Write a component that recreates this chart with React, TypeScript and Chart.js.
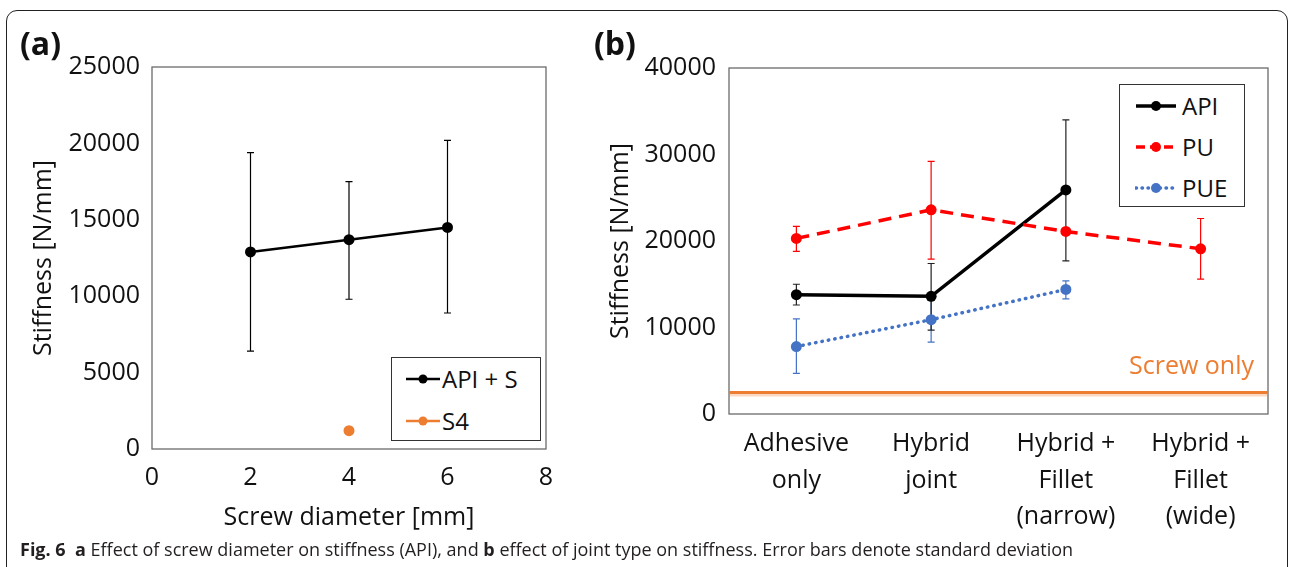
import React, { useEffect, useRef } from "react";
import { Chart, registerables } from "chart.js";
Chart.register(...registerables);

// ---------- data: panel (a) ----------
const screwDiameters = [2, 4, 6];
const apiSValues = [12900, 13700, 14500];
const apiSUpper = [19400, 17500, 20200];
const apiSLower = [6400, 9800, 8900];
const s4Diameters = [4];
const s4Values = [1200];
const leftXTicks = { min: 0, max: 8, step: 2 };
const leftYTicks = { min: 0, max: 25000, step: 5000 };

// ---------- data: panel (b) ----------
const jointTypes = [
  ["Adhesive", "only"],
  ["Hybrid", "joint"],
  ["Hybrid +", "Fillet", "(narrow)"],
  ["Hybrid +", "Fillet", "(wide)"],
];
const apiValues = [13800, 13600, 25900, null];
const apiUpper = [15000, 17400, 34000, null];
const apiLower = [12600, 9700, 17700, null];
const puValues = [20300, 23600, 21100, 19100];
const puUpper = [21700, 29200, null, 22600];
const puLower = [18800, 17900, null, 15600];
const pueValues = [7800, 10900, 14400, null];
const pueUpper = [11000, 13500, 15400, null];
const pueLower = [4700, 8300, 13300, null];
const screwOnlyValue = 2500;
const rightYTicks = { min: 0, max: 40000, step: 10000 };

const FONT = "'Open Sans', 'DejaVu Sans', sans-serif";
const ORANGE = "#ED7D31";
const RED = "#FF0000";
const BLUE = "#4472C4";
const BLACK = "#000000";
const TICK_SIZE = 25;

const plainNumber = (v: any) => String(v);

const frameAndErrorPlugin = {
  id: "frameAndErrors",
  beforeDatasetsDraw(chart: any) {
    const ctx = chart.ctx;
    const a = chart.chartArea;
    ctx.save();
    ctx.strokeStyle = "#6b6b6b";
    ctx.lineWidth = 1.3;
    ctx.strokeRect(a.left, a.top, a.right - a.left, a.bottom - a.top);
    ctx.restore();

    const ys = chart.scales.y;
    chart.data.datasets.forEach((ds: any, di: number) => {
      if (!ds.errUpper) return;
      const meta = chart.getDatasetMeta(di);
      meta.data.forEach((pt: any, i: number) => {
        const u = ds.errUpper[i];
        const l = ds.errLower[i];
        if (u == null || l == null || !isFinite(pt.x)) return;
        const yU = ys.getPixelForValue(u);
        const yL = ys.getPixelForValue(l);
        const cap = 3.5;
        ctx.save();
        ctx.strokeStyle = ds.errColor;
        ctx.lineWidth = 1.2;
        ctx.beginPath();
        ctx.moveTo(pt.x, yU);
        ctx.lineTo(pt.x, yL);
        ctx.moveTo(pt.x - cap, yU);
        ctx.lineTo(pt.x + cap, yU);
        ctx.moveTo(pt.x - cap, yL);
        ctx.lineTo(pt.x + cap, yL);
        ctx.stroke();
        ctx.restore();
      });
    });
  },
};

const screwOnlyPlugin = {
  id: "screwOnly",
  beforeDatasetsDraw(chart: any) {
    const opts = chart.options.plugins.screwOnly;
    if (!opts || opts.value == null) return;
    const ctx = chart.ctx;
    const a = chart.chartArea;
    const y = chart.scales.y.getPixelForValue(opts.value);
    ctx.save();
    ctx.strokeStyle = "rgba(237,125,49,0.3)";
    ctx.lineWidth = 3;
    ctx.beginPath();
    ctx.moveTo(a.left, y + 2.5);
    ctx.lineTo(a.right, y + 2.5);
    ctx.stroke();
    ctx.strokeStyle = ORANGE;
    ctx.lineWidth = 3;
    ctx.beginPath();
    ctx.moveTo(a.left, y);
    ctx.lineTo(a.right, y);
    ctx.stroke();
    ctx.fillStyle = ORANGE;
    ctx.font = `25px ${FONT}`;
    ctx.textAlign = "right";
    ctx.textBaseline = "middle";
    ctx.fillText(opts.label, a.right - 14, y - 26);
    ctx.restore();
  },
};

function LeftChart() {
  const ref = useRef<HTMLCanvasElement>(null);
  useEffect(() => {
    const chart = new Chart(ref.current as HTMLCanvasElement, {
      type: "line",
      data: {
        datasets: [
          {
            label: "API + S",
            data: screwDiameters.map((x, i) => ({ x, y: apiSValues[i] })),
            borderColor: BLACK,
            backgroundColor: BLACK,
            borderWidth: 2.5,
            pointRadius: 5.5,
            pointBorderWidth: 0,
            pointBackgroundColor: BLACK,
            errUpper: apiSUpper,
            errLower: apiSLower,
            errColor: BLACK,
          } as any,
          {
            label: "S4",
            data: s4Diameters.map((x, i) => ({ x, y: s4Values[i] })),
            borderColor: ORANGE,
            backgroundColor: ORANGE,
            showLine: false,
            pointRadius: 5.5,
            pointBorderWidth: 0,
            pointBackgroundColor: ORANGE,
          },
        ],
      },
      options: {
        animation: false,
        responsive: false,
        maintainAspectRatio: false,
        layout: { padding: { left: 24, right: 34, top: 67, bottom: 0 } },
        plugins: { legend: { display: false }, tooltip: { enabled: false } },
        scales: {
          x: {
            type: "linear",
            min: leftXTicks.min,
            max: leftXTicks.max,
            ticks: { stepSize: leftXTicks.step, padding: 14, color: "#111", font: { family: FONT, size: TICK_SIZE }, callback: plainNumber },
            grid: { display: false, drawTicks: false },
            border: { display: false },
            title: {
              display: true,
              text: "Screw diameter [mm]",
              color: "#111",
              font: { family: FONT, size: 25 },
              padding: { top: 0, bottom: 7 },
            },
            afterFit: (s: any) => {
              s.height = 91;
            },
          },
          y: {
            min: leftYTicks.min,
            max: leftYTicks.max,
            ticks: { stepSize: leftYTicks.step, padding: 12, color: "#111", font: { family: FONT, size: TICK_SIZE }, callback: plainNumber },
            grid: { display: false, drawTicks: false },
            border: { display: false },
            title: {
              display: true,
              text: "Stiffness [N/mm]",
              color: "#111",
              font: { family: FONT, size: 25 },
              padding: { top: 5, bottom: 0 },
            },
            afterFit: (s: any) => {
              s.width = 128;
            },
          },
        },
      },
      plugins: [frameAndErrorPlugin],
    } as any);
    return () => chart.destroy();
  }, []);
  return <canvas ref={ref} width={580} height={540} style={{ position: "absolute", left: 0, top: 0 }} />;
}

function RightChart() {
  const ref = useRef<HTMLCanvasElement>(null);
  useEffect(() => {
    const chart = new Chart(ref.current as HTMLCanvasElement, {
      type: "line",
      data: {
        labels: jointTypes,
        datasets: [
          {
            label: "PUE",
            data: pueValues,
            borderColor: BLUE,
            backgroundColor: BLUE,
            borderWidth: 3.5,
            borderDash: [0.5, 6],
            borderCapStyle: "round",
            pointRadius: 5.5,
            pointBorderWidth: 0,
            pointBackgroundColor: BLUE,
            errUpper: pueUpper,
            errLower: pueLower,
            errColor: BLUE,
          } as any,
          {
            label: "PU",
            data: puValues,
            borderColor: RED,
            backgroundColor: RED,
            borderWidth: 3.5,
            borderDash: [13, 8],
            pointRadius: 5.5,
            pointBorderWidth: 0,
            pointBackgroundColor: RED,
            errUpper: puUpper,
            errLower: puLower,
            errColor: RED,
          } as any,
          {
            label: "API",
            data: apiValues,
            borderColor: BLACK,
            backgroundColor: BLACK,
            borderWidth: 3.5,
            pointRadius: 5.5,
            pointBorderWidth: 0,
            pointBackgroundColor: BLACK,
            errUpper: apiUpper,
            errLower: apiLower,
            errColor: "#222",
          } as any,
        ],
      },
      options: {
        animation: false,
        responsive: false,
        maintainAspectRatio: false,
        layout: { padding: { left: 20, right: 21, top: 68, bottom: 0 } },
        plugins: {
          legend: { display: false },
          tooltip: { enabled: false },
          screwOnly: { value: screwOnlyValue, label: "Screw only" },
        } as any,
        scales: {
          x: {
            type: "category",
            offset: true,
            ticks: {
              padding: 12,
              color: "#111",
              font: { family: FONT, size: TICK_SIZE, lineHeight: 1.45 },
              maxRotation: 0,
              autoSkip: false,
            },
            grid: { display: false, drawTicks: false, offset: true },
            border: { display: false },
            afterFit: (s: any) => {
              s.height = 126;
            },
          },
          y: {
            min: rightYTicks.min,
            max: rightYTicks.max,
            ticks: { stepSize: rightYTicks.step, padding: 13, color: "#111", font: { family: FONT, size: TICK_SIZE }, callback: plainNumber },
            grid: { display: false, drawTicks: false },
            border: { display: false },
            title: {
              display: true,
              text: "Stiffness [N/mm]",
              color: "#111",
              font: { family: FONT, size: 25 },
              padding: { top: 6, bottom: 0 },
            },
            afterFit: (s: any) => {
              s.width = 129;
            },
          },
        },
      },
      plugins: [frameAndErrorPlugin, screwOnlyPlugin],
    } as any);
    return () => chart.destroy();
  }, []);
  return <canvas ref={ref} width={709} height={540} style={{ position: "absolute", left: 580, top: 0 }} />;
}

function LineSample({ color, dash, cap }: { color: string; dash?: string; cap?: "round" | "butt" }) {
  return (
    <svg width={42} height={12} style={{ position: "absolute", left: 0, top: -6 }}>
      <line x1={1} y1={6} x2={41} y2={6} stroke={color} strokeWidth={3.5} strokeDasharray={dash} strokeLinecap={cap || "butt"} />
      <circle cx={21} cy={6} r={5} fill={color} />
    </svg>
  );
}

const legendText: React.CSSProperties = {
  position: "absolute",
  fontFamily: FONT,
  fontSize: 24,
  lineHeight: "30px",
  color: "#111",
  whiteSpace: "nowrap",
};

export default function App() {
  return (
    <div
      style={{
        position: "fixed",
        left: 0,
        top: 0,
        width: 1289,
        height: 567,
        background: "#fff",
        overflow: "hidden",
      }}
    >
      <div
        style={{
          position: "absolute",
          left: 6,
          top: 10,
          width: 1282,
          height: 620,
          border: "1.5px solid #222",
          borderRadius: 11,
          boxSizing: "border-box",
        }}
      />
      <LeftChart />
      <RightChart />

      <div style={{ position: "absolute", left: 20, top: 24, fontFamily: FONT, fontWeight: 700, fontSize: 32, lineHeight: "38px", color: "#111" }}>
        (a)
      </div>
      <div style={{ position: "absolute", left: 594, top: 24, fontFamily: FONT, fontWeight: 700, fontSize: 32, lineHeight: "38px", color: "#111" }}>
        (b)
      </div>

      {/* legend (a) */}
      <div style={{ position: "absolute", left: 391, top: 357, width: 150, height: 84, border: "1.3px solid #333", boxSizing: "border-box", background: "#fff" }}>
        <div style={{ position: "absolute", left: 13, top: 21 }}>
          <svg width={36} height={12} style={{ position: "absolute", left: 0, top: -6 }}>
            <line x1={1} y1={6} x2={35} y2={6} stroke={BLACK} strokeWidth={2.5} />
            <circle cx={18} cy={6} r={4.5} fill={BLACK} />
          </svg>
        </div>
        <div style={{ ...legendText, left: 50, top: 6 }}>API + S</div>
        <div style={{ position: "absolute", left: 13, top: 63 }}>
          <svg width={36} height={12} style={{ position: "absolute", left: 0, top: -6 }}>
            <line x1={1} y1={6} x2={35} y2={6} stroke={ORANGE} strokeWidth={2.5} />
            <circle cx={18} cy={6} r={4.5} fill={ORANGE} />
          </svg>
        </div>
        <div style={{ ...legendText, left: 50, top: 48 }}>S4</div>
      </div>

      {/* legend (b) */}
      <div style={{ position: "absolute", left: 1119, top: 84, width: 126, height: 123, border: "1.3px solid #333", boxSizing: "border-box", background: "#fff" }}>
        <div style={{ position: "absolute", left: 15, top: 21 }}>
          <LineSample color={BLACK} />
        </div>
        <div style={{ ...legendText, left: 62, top: 6 }}>API</div>
        <div style={{ position: "absolute", left: 15, top: 62 }}>
          <LineSample color={RED} dash="9 5" />
        </div>
        <div style={{ ...legendText, left: 62, top: 47 }}>PU</div>
        <div style={{ position: "absolute", left: 15, top: 103 }}>
          <LineSample color={BLUE} dash="0.5 5.5" cap="round" />
        </div>
        <div style={{ ...legendText, left: 62, top: 88 }}>PUE</div>
      </div>

      {/* caption */}
      <div
        style={{
          position: "absolute",
          left: 20,
          top: 537,
          fontFamily: FONT,
          fontSize: 18,
          lineHeight: "24px",
          color: "#231f20",
          whiteSpace: "nowrap",
        }}
      >
        <b>Fig. 6</b>
        {"\u00a0\u00a0"}
        <b>a</b> Effect of screw diameter on stiffness (API), and <b>b</b> effect of joint type on stiffness. Error bars denote standard deviation
      </div>
    </div>
  );
}
